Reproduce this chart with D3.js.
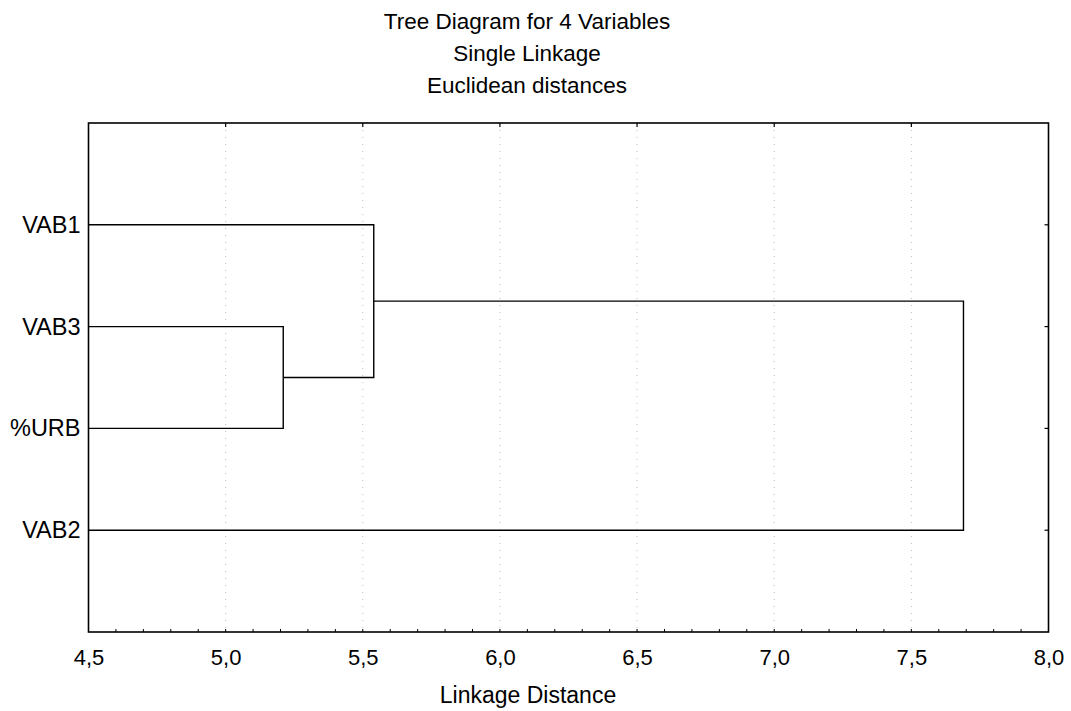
<!DOCTYPE html>
<html><head><meta charset="utf-8">
<script src="https://cdn.jsdelivr.net/npm/d3@7"></script>
<style>body{margin:0;background:#fff}svg{display:block}text{font-family:"Liberation Sans",Arial,sans-serif;fill:#000}</style>
</head><body><svg id="c" width="1071" height="711"></svg>
<script>
const titleLines = ["Tree Diagram for 4 Variables","Single Linkage","Euclidean distances"];
const leaves = ["VAB1","VAB3","%URB","VAB2"];
// merges: [left child, right child, linkage distance, new cluster id]
const mergeA = ["VAB3","%URB",5.21,"C1"];
const mergeB = ["VAB1","C1",5.54,"C2"];
const mergeC = ["C2","VAB2",7.69,"C3"];
const merges = [mergeA, mergeB, mergeC];
const xTicks = [4.5,5.0,5.5,6.0,6.5,7.0,7.5,8.0];
const xTitle = "Linkage Distance";

const svg = d3.select("#c");
const FONT = "'Liberation Sans',Arial,sans-serif";
const L=88.5, R=1048.5, T=123, B=632;
const x = d3.scaleLinear().domain([4.5,8.0]).range([L,R]);
const y = d3.scalePoint().domain(leaves).range([T,B]).padding(1);

// gridlines
svg.append("g").selectAll("line").data(xTicks.slice(1,-1)).join("line")
  .attr("x1",d=>x(d)).attr("x2",d=>x(d)).attr("y1",T).attr("y2",B)
  .attr("stroke","#bbb").attr("stroke-width",1).attr("stroke-dasharray","1,6");

// title
svg.append("g").selectAll("text").data(titleLines).join("text")
  .attr("x",527).attr("y",(d,i)=>29+i*32).attr("text-anchor","middle")
  .attr("font-size",22.5).text(d=>d);

// dendrogram
const pos = {};
leaves.forEach(l=>pos[l]={x:x(4.5),y:y(l)});
const g = svg.append("g").attr("stroke","#000").attr("stroke-width",1.4).attr("fill","none");
merges.forEach(m=>{
  const a=pos[m[0]], b=pos[m[1]], hx=x(m[2]);
  g.append("path").attr("d",`M${a.x},${a.y}H${hx}V${b.y}H${b.x}`);
  pos[m[3]]={x:hx,y:(a.y+b.y)/2};
});

// frame
svg.append("rect").attr("x",L).attr("y",T).attr("width",R-L).attr("height",B-T)
  .attr("fill","none").attr("stroke","#000").attr("stroke-width",1.6);

// bottom axis
const ax = d3.axisBottom(x).tickValues(xTicks).tickSize(0).tickPadding(17)
  .tickFormat(d=>d3.format(".1f")(d).replace(".",","));
const gx = svg.append("g").attr("transform",`translate(0,${B})`).call(ax);
gx.select(".domain").remove();
gx.selectAll("text").attr("font-size",22).attr("dy","0.71em").style("font-family",FONT);
// minor ticks bottom (inside)
svg.append("g").selectAll("line").data(d3.range(46,80).map(v=>v/10)).join("line")
  .attr("x1",d=>x(d)).attr("x2",d=>x(d)).attr("y1",B).attr("y2",B-3)
  .attr("stroke","#000").attr("stroke-width",1);
// top ticks (inside)
svg.append("g").selectAll("line").data(xTicks.slice(1,-1)).join("line")
  .attr("x1",d=>x(d)).attr("x2",d=>x(d)).attr("y1",T).attr("y2",T+4)
  .attr("stroke","#000").attr("stroke-width",1.2);

// left axis labels
const ay = d3.axisLeft(y).tickSize(0).tickPadding(8);
const gy = svg.append("g").attr("transform",`translate(${L},0)`).call(ay);
gy.select(".domain").remove();
gy.selectAll("text").attr("font-size",23.5).style("font-family",FONT);
// right ticks (inside)
svg.append("g").selectAll("line").data(leaves).join("line")
  .attr("x1",R).attr("x2",R-4).attr("y1",d=>y(d)).attr("y2",d=>y(d))
  .attr("stroke","#000").attr("stroke-width",1.2);

svg.append("text").attr("x",528).attr("y",703).attr("text-anchor","middle")
  .attr("font-size",23).text(xTitle);
</script></body></html>
